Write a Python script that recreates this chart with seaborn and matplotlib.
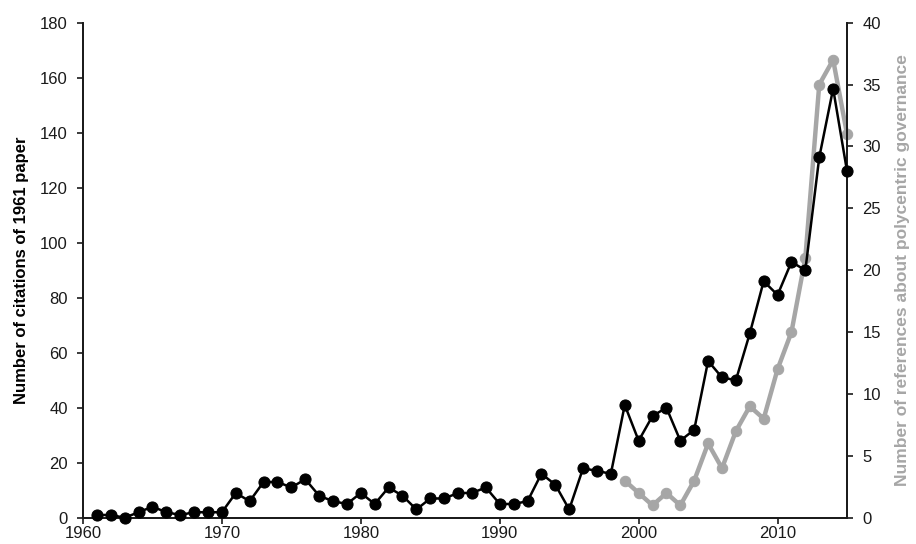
import matplotlib
matplotlib.use("Agg")
import matplotlib.pyplot as plt
import seaborn as sns
import pandas as pd

# Yearly citations of the 1961 paper (left axis)
years = list(range(1961, 2016))
citations = [1, 1, 0, 2, 4, 2, 1, 2, 2, 2,
             9, 6, 13, 13, 11, 14, 8, 6, 5, 9,
             5, 11, 8, 3, 7, 7, 9, 9, 11, 5,
             5, 6, 16, 12, 3, 18, 17, 16, 41, 28,
             37, 40, 28, 32, 57, 51, 50, 67, 86, 81,
             93, 90, 131, 156, 126]

# Yearly references about polycentric governance (right axis)
ref_years = list(range(1999, 2016))
references = [3, 2, 1, 2, 1, 3, 6, 4, 7, 9, 8, 12, 15, 21, 35, 37, 31]

left_ticks = list(range(0, 181, 20))
right_ticks = list(range(0, 41, 5))
x_ticks = list(range(1960, 2011, 10))

sns.set_theme(style="white")
plt.rcParams["font.family"] = ["Liberation Sans", "DejaVu Sans"]

grey = "#a6a6a6"
ink = "#1a1a1a"
df_cit = pd.DataFrame({"year": years, "count": citations})
df_ref = pd.DataFrame({"year": ref_years, "count": references})

fig = plt.figure(figsize=(9.16, 5.44), dpi=100)
ax = fig.add_axes([0.0906, 0.0483, 0.8341, 0.91])
ax2 = ax.twinx()

sns.lineplot(data=df_ref, x="year", y="count", ax=ax2, color=grey,
             linewidth=3.2, marker="o", markersize=7.5,
             markeredgecolor=grey, markerfacecolor=grey, zorder=2,
             clip_on=False)
sns.lineplot(data=df_cit, x="year", y="count", ax=ax, color="black",
             linewidth=1.8, marker="o", markersize=8,
             markeredgecolor="black", markerfacecolor="black", zorder=3,
             clip_on=False)

# draw the black series above the grey one
ax.set_zorder(ax2.get_zorder() + 1)
ax.patch.set_visible(False)

ax.set_xlim(1960, 2015)
ax.set_ylim(0, 180)
ax2.set_ylim(0, 40)
ax.set_xticks(x_ticks)
ax.set_yticks(left_ticks)
ax2.set_yticks(right_ticks)

ax.set_xlabel("")
ax.set_ylabel("Number of citations of 1961 paper", fontsize=12,
              fontweight="bold", color="black", labelpad=8)
ax2.set_ylabel("Number of references about polycentric governance",
               fontsize=12.5, fontweight="bold", color=grey, labelpad=10)

for a in (ax, ax2):
    a.spines["top"].set_visible(False)
    for s in ("left", "right", "bottom"):
        a.spines[s].set_color(ink)
        a.spines[s].set_linewidth(1.3)
    a.tick_params(axis="both", which="major", labelsize=12,
                  colors=ink, length=4, width=1.2, direction="out", pad=7)
ax.tick_params(axis="x", bottom=True, pad=2)
ax.tick_params(axis="y", left=True)
ax2.tick_params(axis="y", right=True)

fig.savefig("out.png", dpi=100)
